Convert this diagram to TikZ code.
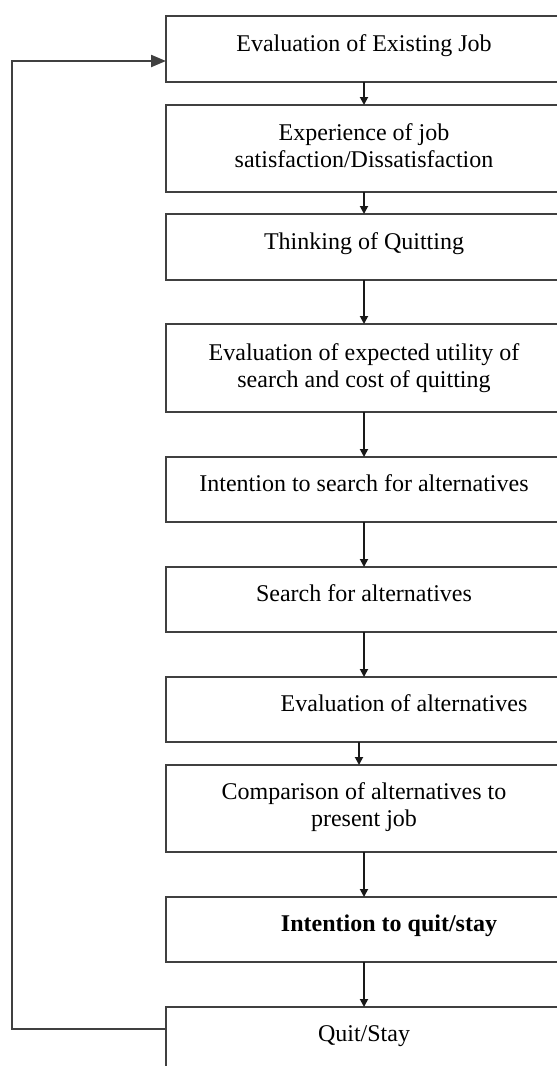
\documentclass[tikz,border=0pt]{standalone}
\usepackage{fontspec}
\setmainfont{Liberation Serif}
\usetikzlibrary{arrows.meta,calc}
\begin{document}
\begin{tikzpicture}[x=1pt,y=-1pt,
  box/.style={draw=black!75,line width=2.2pt,rectangle,inner sep=0pt,outer sep=0pt,minimum width=396pt},
  lbl/.style={font=\fontsize{24}{27.6}\selectfont,align=center,anchor=base,inner sep=0pt},
  flow/.style={draw=black!90,line width=1.8pt,-{Triangle[length=8pt,width=8pt]}},
  back/.style={draw=black!75,line width=2.2pt,-{Triangle[length=15pt,width=12pt]}}
]
\useasboundingbox (0,0) rectangle (557,1066);
\clip (0,0) rectangle (557,1066);

% process boxes
\node[box,minimum height=66pt] (b1)  at (364,49)    {};
\node[box,minimum height=87pt] (b2)  at (364,148.5) {};
\node[box,minimum height=66pt] (b3)  at (364,247)   {};
\node[box,minimum height=88pt] (b4)  at (364,368)   {};
\node[box,minimum height=65pt] (b5)  at (364,489.5) {};
\node[box,minimum height=65pt] (b6)  at (364,599.5) {};
\node[box,minimum height=65pt] (b7)  at (364,709.5) {};
\node[box,minimum height=87pt] (b8)  at (364,808.5) {};
\node[box,minimum height=65pt] (b9)  at (364,929.5) {};
\node[box,minimum height=93pt] (b10) at (364,1053.5) {};

% box captions (a two-line caption sits on the baseline of its last line)
\node[lbl] (t1)  at ($(b1.north)+(0,35)$)    {Evaluation of Existing Job};
\node[lbl] (t2)  at ($(b2.north)+(0,62.6)$)  {Experience of job\\satisfaction/Dissatisfaction};
\node[lbl] (t3)  at ($(b3.north)+(0,35)$)    {Thinking of Quitting};
\node[lbl] (t4)  at ($(b4.north)+(0,63.6)$)  {Evaluation of expected utility of\\search and cost of quitting};
\node[lbl] (t5)  at ($(b5.north)+(0,34)$)    {Intention to search for alternatives};
\node[lbl] (t6)  at ($(b6.north)+(0,34)$)    {Search for alternatives};
\node[lbl] (t7)  at ($(b7.north)+(40,34)$)   {Evaluation of alternatives};
\node[lbl] (t8)  at ($(b8.north)+(0,61.6)$)  {Comparison of alternatives to\\present job};
\node[lbl,font=\fontsize{24}{27.6}\selectfont\bfseries] (t9) at ($(b9.north)+(25,34)$) {Intention to quit/stay};
\node[lbl] (t10) at ($(b10.north)+(0,34)$)   {Quit/Stay};

% downward flow
\draw[flow] (b1) -- (b2);
\draw[flow] (b2) -- (b3);
\draw[flow] (b3) -- (b4);
\draw[flow] (b4) -- (b5);
\draw[flow] (b5) -- (b6);
\draw[flow] (b6) -- (b7);
\draw[flow] ([xshift=-5pt]b7.south) -- ([xshift=-5pt]b8.north);
\draw[flow] (b8) -- (b9);
\draw[flow] (b9) -- (b10);

% feedback loop from the outcome back to the first step
\coordinate (fbout) at ($(b10.north west)+(0,22)$);
\coordinate (fbin)  at ($(b1.north west)+(0,45)$);
\coordinate (rail)  at (12,500);
\draw[back] (fbout) -| (rail) |- (fbin);
\end{tikzpicture}
\end{document}
